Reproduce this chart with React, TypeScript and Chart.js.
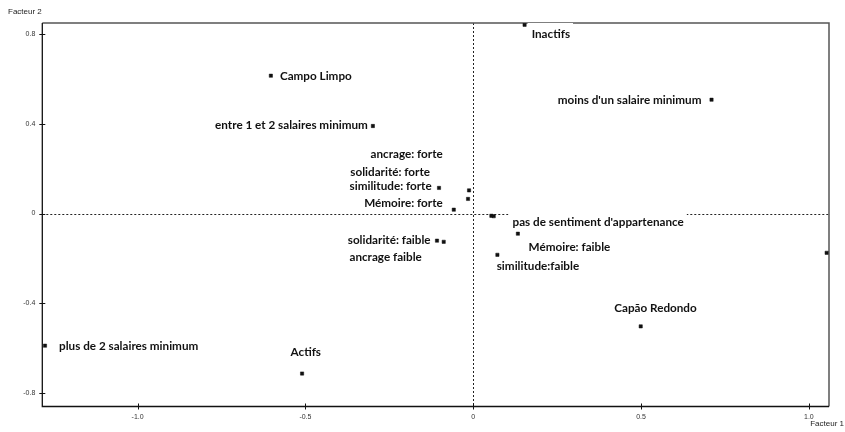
import React, { useEffect, useRef } from "react";
import { Chart, registerables } from "chart.js";

Chart.register(...registerables);

// Point coordinates (Facteur 1, Facteur 2)
const pointX = [0.153, -0.603, 0.71, -0.299, -0.102, -0.0125, -0.0155, -0.058, 0.054, 0.061, 0.133, -0.108, -0.088, 0.072, 1.053, 0.499, -1.276, -0.51];
const pointY = [0.841, 0.614, 0.507, 0.39, 0.114, 0.103, 0.065, 0.017, -0.01, -0.012, -0.09, -0.121, -0.126, -0.184, -0.175, -0.503, -0.589, -0.713];

// Label texts and their anchors (data units)
const labelText = [
  "Inactifs",
  "Campo Limpo",
  "moins d'un salaire minimum",
  "entre 1 et 2 salaires minimum",
  "ancrage: forte",
  "solidarité: forte",
  "similitude: forte",
  "Mémoire: forte",
  "pas de sentiment d'appartenance",
  "Mémoire: faible",
  "similitude:faible",
  "solidarité: faible",
  "ancrage faible",
  "Capão Redondo",
  "plus de 2 salaires minimum",
  "Actifs",
];
const labelX = [0.174, -0.576, 0.68, -0.314, -0.091, -0.129, -0.124, -0.091, 0.117, 0.165, 0.07, -0.127, -0.261, 0.543, -1.234, -0.499];
const labelY = [0.8, 0.614, 0.507, 0.395, 0.262, 0.186, 0.121, 0.048, -0.037, -0.152, -0.233, -0.121, -0.196, -0.424, -0.592, -0.62];
const labelAlign = ["left", "left", "right", "right", "right", "right", "right", "right", "left", "left", "left", "right", "center", "center", "left", "center"];

const xTicks = [-1.0, -0.5, 0, 0.5, 1.0];
const xTickLabels = ["-1.0", "-0.5", "0", "0.5", "1.0"];
const yTicks = [0.8, 0.4, 0, -0.4, -0.8];
const yTickLabels = ["0.8", "0.4", "0", "-0.4", "-0.8"];
const xRange = [-1.284, 1.06];
const yRange = [-0.86, 0.849];
const xTitle = "Facteur 1";
const yTitle = "Facteur 2";

const LABEL_FONT = "bold 11.7px Lato, 'Open Sans', sans-serif";

const decorPlugin = {
  id: "decor",
  beforeDatasetsDraw(chart: any) {
    const { ctx, chartArea, scales } = chart;
    const { left, right, top, bottom } = chartArea;
    ctx.save();
    // zero lines (dotted)
    ctx.strokeStyle = "#222";
    ctx.lineWidth = 1;
    ctx.setLineDash([2, 2]);
    const x0 = Math.round(scales.x.getPixelForValue(0)) + 0.5;
    const y0 = Math.round(scales.y.getPixelForValue(0)) + 0.5;
    ctx.beginPath();
    ctx.moveTo(x0, top);
    ctx.lineTo(x0, bottom);
    ctx.moveTo(left, y0);
    ctx.lineTo(right, y0);
    ctx.stroke();
    ctx.setLineDash([]);
    // frame
    ctx.strokeStyle = "#555";
    ctx.lineWidth = 1.5;
    ctx.beginPath();
    ctx.moveTo(left, top);
    ctx.lineTo(right, top);
    ctx.lineTo(right, bottom);
    ctx.stroke();
    ctx.strokeStyle = "#111";
    ctx.lineWidth = 1.3;
    ctx.beginPath();
    ctx.moveTo(left, top);
    ctx.lineTo(left, bottom);
    ctx.lineTo(right, bottom);
    ctx.stroke();
    // tick marks crossing axes
    ctx.lineWidth = 1;
    ctx.beginPath();
    for (const v of xTicks) {
      const px = Math.round(scales.x.getPixelForValue(v)) + 0.5;
      ctx.moveTo(px, bottom - 3);
      ctx.lineTo(px, bottom + 3);
    }
    for (const v of yTicks) {
      const py = Math.round(scales.y.getPixelForValue(v)) + 0.5;
      ctx.moveTo(left - 3, py);
      ctx.lineTo(left + 3, py);
    }
    ctx.stroke();
    // axis titles
    ctx.fillStyle = "#222";
    ctx.font = "8px 'Liberation Sans', Arial, sans-serif";
    ctx.textBaseline = "middle";
    ctx.textAlign = "left";
    ctx.fillText(yTitle, 8, 12);
    ctx.textAlign = "right";
    ctx.fillText(xTitle, 844, 424);

    // labels: white boxes first, then the texts (under the points)
    ctx.font = LABEL_FONT;
    ctx.textBaseline = "middle";
    ctx.textAlign = "left";
    const placed = labelText.map((t, i) => {
      const px = scales.x.getPixelForValue(labelX[i]);
      const py = scales.y.getPixelForValue(labelY[i]);
      const w = ctx.measureText(t).width;
      const al = labelAlign[i];
      let lx = px;
      if (al === "right") lx = px - w;
      else if (al === "center") lx = px - w / 2;
      return { t, lx, py, w };
    });
    ctx.fillStyle = "#fff";
    placed.forEach((p) => ctx.fillRect(p.lx - 4, p.py - 11, p.w + 7, 21));
    ctx.fillStyle = "#111";
    placed.forEach((p) => ctx.fillText(p.t, p.lx, p.py));
    ctx.restore();
  },
};

export default function App() {
  const ref = useRef<HTMLCanvasElement>(null);
  useEffect(() => {
    if (!ref.current) return;
    const data = pointX.map((x, i) => ({ x, y: pointY[i] }));
    const chart = new Chart(ref.current, {
      type: "scatter",
      data: {
        datasets: [
          {
            data,
            pointStyle: "rect",
            radius: 2.3,
            backgroundColor: "#111",
            borderColor: "#111",
            borderWidth: 0.5,
          },
        ],
      },
      options: {
        animation: false,
        responsive: false,
        maintainAspectRatio: false,
        layout: { padding: { top: 23, right: 16, left: 0, bottom: 0 } },
        plugins: { legend: { display: false }, tooltip: { enabled: false } },
        scales: {
          x: {
            type: "linear",
            min: xRange[0],
            max: xRange[1],
            afterBuildTicks: (s: any) => {
              s.ticks = xTicks.map((v) => ({ value: v }));
            },
            afterFit: (s: any) => {
              s.height = 25.5;
            },
            grid: { display: false, drawTicks: false },
            border: { display: false },
            ticks: {
              padding: 6,
              color: "#333",
              font: { size: 7, family: "'Liberation Sans', Arial, sans-serif" },
              callback: (v: any) => {
                const i = xTicks.indexOf(Number(v));
                return i >= 0 ? xTickLabels[i] : "";
              },
              maxRotation: 0,
              autoSkip: false,
            },
          },
          y: {
            type: "linear",
            min: yRange[0],
            max: yRange[1],
            afterBuildTicks: (s: any) => {
              s.ticks = yTicks.map((v) => ({ value: v }));
            },
            afterFit: (s: any) => {
              s.width = 42.3;
            },
            grid: { display: false, drawTicks: false },
            border: { display: false },
            ticks: {
              padding: 7,
              color: "#333",
              font: { size: 7, family: "'Liberation Sans', Arial, sans-serif" },
              callback: (v: any) => {
                const i = yTicks.indexOf(Number(v));
                return i >= 0 ? yTickLabels[i] : "";
              },
              autoSkip: false,
            },
          },
        },
      },
      plugins: [decorPlugin],
    });
    return () => chart.destroy();
  }, []);
  return (
    <div style={{ position: "fixed", left: 0, top: 0, width: 845, height: 432, background: "#fff" }}>
      <canvas ref={ref} width={845} height={432} style={{ width: 845, height: 432 }} />
    </div>
  );
}
